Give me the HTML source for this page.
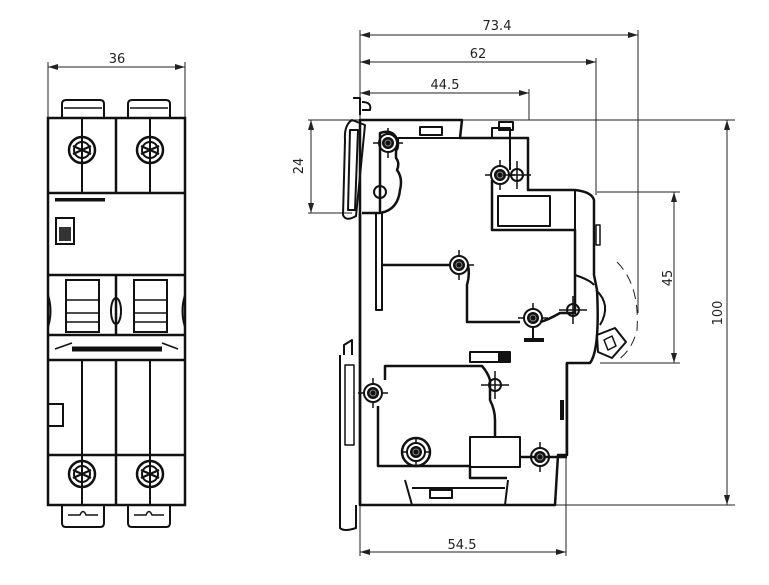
<!DOCTYPE html>
<html><head><meta charset="utf-8"><style>
html,body{margin:0;padding:0;background:#fff;}
svg{display:block;}
text{font-family:"DejaVu Sans","Liberation Sans",sans-serif;font-size:13px;fill:#222;}
</style></head><body>
<svg width="769" height="585" viewBox="0 0 769 585" xmlns="http://www.w3.org/2000/svg">
<defs>
<marker id="a" viewBox="0 0 10 6" refX="10" refY="3" markerWidth="10" markerHeight="6" orient="auto-start-reverse"><path d="M0,0 L10,3 L0,6z" fill="#222"/></marker>
<g id="scr"><circle r="13" fill="none" stroke="#111" stroke-width="2.5"/><circle r="8" fill="none" stroke="#111" stroke-width="2"/><path d="M-9,-4 L9,4 M-9,4 L9,-4" stroke="#111" stroke-width="2.2"/></g>
<g id="pv"><circle r="9" fill="none" stroke="#111" stroke-width="2"/><circle r="6" fill="#111"/><circle r="3" fill="none" stroke="#888" stroke-width="1"/><path d="M-15,0 H-8 M8,0 H15 M0,-15 V-8 M0,8 V15" stroke="#111" stroke-width="1.5"/></g>
<g id="sp"><circle r="6" fill="none" stroke="#111" stroke-width="2"/><path d="M-14,0 H14 M0,-14 V14" stroke="#111" stroke-width="1.5"/></g>
</defs>
<g stroke="#222" stroke-width="1" fill="none">
<path d="M48,118 V62 M185,118 V62"/>
<path d="M48,67 H185" marker-start="url(#a)" marker-end="url(#a)"/>
<path d="M360,120 V30 M638,313 V30 M596,195 V58 M529,120 V89"/>
<path d="M360,35 H638" marker-start="url(#a)" marker-end="url(#a)"/>
<path d="M360,62 H596" marker-start="url(#a)" marker-end="url(#a)"/>
<path d="M360,93 H529" marker-start="url(#a)" marker-end="url(#a)"/>
<path d="M308,120 H735 M308,213 H352"/>
<path d="M311,120 V213" marker-start="url(#a)" marker-end="url(#a)"/>
<path d="M597,192 H680 M600,363 H680"/>
<path d="M674,192 V363" marker-start="url(#a)" marker-end="url(#a)"/>
<path d="M548,505 H735"/>
<path d="M727,120 V505" marker-start="url(#a)" marker-end="url(#a)"/>
<path d="M360,505 V556 M566,363 V556"/>
<path d="M360,552 H566" marker-start="url(#a)" marker-end="url(#a)"/>
<path d="M617,262 Q640,285 637,330 Q632,350 618,360" stroke-dasharray="10,6"/>
</g>
<text x="117" y="63" text-anchor="middle">36</text>
<text x="497" y="30" text-anchor="middle">73.4</text>
<text x="478" y="58" text-anchor="middle">62</text>
<text x="445" y="89" text-anchor="middle">44.5</text>
<text x="462" y="549" text-anchor="middle">54.5</text>
<text transform="translate(303,166) rotate(-90)" text-anchor="middle">24</text>
<text transform="translate(672,278) rotate(-90)" text-anchor="middle">45</text>
<text transform="translate(722,313) rotate(-90)" text-anchor="middle">100</text>

<g stroke="#111" stroke-width="2.5" fill="none">
<rect x="48" y="118" width="137" height="387"/>
<path d="M48,193 H185 M48,275 H185 M48,335 H185 M48,360 H185 M48,455 H185"/>
<path d="M116,118 V193 M116,275 V335 M116,360 V505"/>
<path d="M82,118 V193 M150,118 V193 M82,360 V505 M150,360 V505" stroke-width="2"/>
<path d="M62,118 V104 Q62,100 66,100 H100 Q104,100 104,104 V118 M128,118 V104 Q128,100 132,100 H166 Q170,100 170,104 V118" stroke-width="2"/>
<path d="M64,108 H102 M130,108 H168" stroke-width="1.5"/>
<path d="M62,505 V523 Q62,527 66,527 H100 Q104,527 104,523 V505 M128,505 V523 Q128,527 132,527 H166 Q170,527 170,523 V505" stroke-width="2"/>
<path d="M68,515 H80 Q83,508 86,515 H98 M134,515 H146 Q149,508 152,515 H164" stroke-width="1.5"/>
<rect x="66" y="280" width="33" height="52" stroke-width="2"/>
<rect x="134" y="280" width="33" height="52" stroke-width="2"/>
<path d="M66,300 H99 M66,313 H99 M66,322 H99 M134,300 H167 M134,313 H167 M134,322 H167" stroke-width="1.5"/>
<ellipse cx="116" cy="311" rx="5" ry="13" stroke-width="2"/>
<path d="M48,295 Q53,311 48,327 M185,295 Q180,311 185,327" stroke-width="2"/>
<path d="M72,349 H162" stroke-width="5"/>
<path d="M55,349 L72,343 M178,349 L162,343" stroke-width="1.5"/>
<rect x="48" y="404" width="15" height="22" stroke-width="2"/>
</g>
<rect x="55" y="198" width="50" height="3.5" fill="#111"/>
<rect x="56" y="218" width="18" height="26" fill="none" stroke="#111" stroke-width="2"/>
<rect x="59" y="227" width="12" height="14" fill="#333"/>
<use href="#scr" x="82" y="150"/><use href="#scr" x="150" y="150"/>
<use href="#scr" x="82" y="474"/><use href="#scr" x="150" y="474"/>

<g stroke="#111" stroke-width="2.5" fill="none" stroke-linejoin="round">
<path d="M360,120 H462 L460,138 H528 V190 H575 Q592,192 594,200 V275 L597,290 Q600,350 590,363 H567 V455 H558 L555,505 H360 Z"/>
<path d="M360,213 V505"/>
<path d="M352,120 Q344,125 345,140 L343,215 Q346,222 356,216 L365,125 Z" stroke-width="2"/>
<path d="M353,98 H360 V115 M362,102 Q372,102 370,110 H362" stroke-width="2"/>
<path d="M350,130 L358,130 L355,210 L348,210 Z" stroke-width="2"/>
<path d="M362,213 H380 V133 Q395,128 398,143 Q398,150 396,150 V158 Q400,163 397,170 Q403,178 400,190 Q398,210 380,213"/>
<circle cx="380" cy="192" r="6" stroke-width="2"/>
<path d="M376,213 V310 H382 V213" stroke-width="2"/>
<path d="M382,265 H450 M468,265 Q470,275 467,285 V322 H520 M540,322 Q548,320 560,313 H575 V230 H492 V180"/>
<path d="M398,143 V138 H492 V128 H510 V170" stroke-width="2"/>
<rect x="498" y="196" width="52" height="30" stroke-width="2"/>
<path d="M575,190 V275 Q590,280 594,285" stroke-width="2"/>
<path d="M596,290 Q612,305 600,325" stroke-width="2"/>
<path d="M597,335 L615,328 L626,342 L612,358 L598,352 Z" stroke-width="2"/>
<path d="M604,340 L612,336 L616,346 L608,350 Z" stroke-width="1.5"/>
<path d="M385,380 V366 H482 Q488,373 490,380 V400 Q495,410 495,420 V438 M378,406 V466 H470 V478 H507"/>
<rect x="470" y="437" width="50" height="30" stroke-width="2"/>
<path d="M520,457 H540 M546,457 H567"/>
<path d="M405,480 L412,505 M508,480 L505,505 M412,488 H505" stroke-width="2"/>
<rect x="430" y="490" width="22" height="8" stroke-width="2"/>
<rect x="420" y="127" width="22" height="8" stroke-width="2"/>
<rect x="499" y="122" width="14" height="8" stroke-width="2"/>
<rect x="470" y="352" width="40" height="10" stroke-width="2"/>
<path d="M344,355 V345 L352,340 V355 M340,355 V528 Q344,532 356,528 V505" stroke-width="2"/>
<path d="M345,365 H354 V445 H345 Z" stroke-width="1.5"/>
<path d="M596,225 V245 H600 V225 Z" stroke-width="1.5"/>
<path d="M562,400 V420" stroke-width="4"/>
</g>
<rect x="498" y="352" width="12" height="10" fill="#111"/>
<path d="M524,340 H544" stroke="#111" stroke-width="4"/>
<path d="M533,327 V340" stroke="#111" stroke-width="2"/>
<use href="#pv" x="388" y="143"/><use href="#pv" x="500" y="175"/>
<use href="#pv" x="459" y="265"/><use href="#pv" x="533" y="318"/>
<use href="#pv" x="373" y="393"/><use href="#pv" x="540" y="457"/>
<g transform="translate(416,452)"><circle r="14" fill="none" stroke="#111" stroke-width="2.5"/><use href="#pv"/></g>
<use href="#sp" x="517" y="175"/><use href="#sp" x="573" y="310"/><use href="#sp" x="495" y="385"/>
</svg>
</body></html>
